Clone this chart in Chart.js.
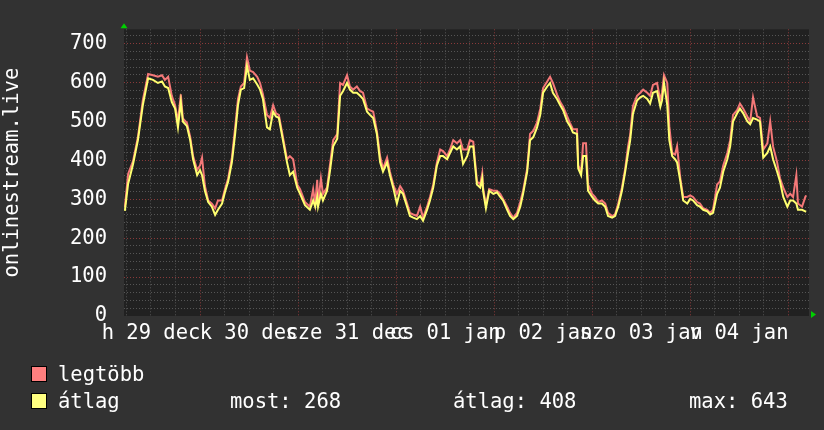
<!DOCTYPE html>
<html>
<head>
<meta charset="utf-8">
<script src="https://cdn.jsdelivr.net/npm/chart.js@4"></script>
<style>
  html, body { margin: 0; padding: 0; background: #323232; }
  #wrap { position: relative; width: 824px; height: 430px; }
  #graph { position: absolute; left: 0; top: 0; }
  .leg { position: absolute; font-family: 'DejaVu Sans Mono', monospace; font-size: 20.5px;
         line-height: 24px; color: #fff; white-space: pre; }
  .box { position: absolute; width: 14px; height: 14px; border: 1px solid #000; }
</style>
</head>
<body>
<div id="wrap">
  <canvas id="graph" width="824" height="430"></canvas>
  <div class="box" style="left:31px; top:366px; background:#ff7f7f"></div>
  <div class="leg" style="left:58px; top:362px">legtöbb</div>
  <div class="box" style="left:31px; top:393px; background:#ffff80"></div>
  <div class="leg" style="left:58px; top:389px">átlag</div>
  <div class="leg" id="stNow" style="left:230px; top:389px"></div>
  <div class="leg" id="stAvg" style="left:453px; top:389px"></div>
  <div class="leg" id="stMax" style="left:689px; top:389px"></div>
</div>
<script>
// hours since 29 dec 00:00
const hours = [5.6,6.4,7.6,8.8,10.0,11.3,12.5,13.7,14.7,15.4,16.2,17.1,17.9,18.6,19.3,19.8,20.8,21.6,22.3,23.3,
  24.0,24.5,25.2,26.0,26.9,27.7,28.4,29.4,30.1,30.9,31.8,32.6,33.3,34.0,34.8,35.5,36.2,37.0,38.0,38.7,
  39.4,40.4,41.1,41.9,42.6,43.3,44.3,45.3,
  46.0,46.8,47.8,48.5,49.7,50.9,51.7,52.2,52.7,52.9,53.6,54.1,55.1,55.8,56.6,57.6,58.3,59.0,60.0,60.7,
  61.5,62.4,63.2,63.9,64.9,65.6,66.4,67.3,68.1,68.8,69.8,70.5,71.3,72.2,73.0,73.7,74.7,75.4,76.2,77.1,
  77.9,78.6,79.6,80.3,81.1,82.0,82.8,83.5,84.5,85.2,86.0,86.9,
  87.7,88.4,89.4,90.1,90.9,91.8,92.6,93.1,93.3,94.0,94.8,95.8,96.7,97.5,98.2,99.2,99.9,100.7,101.6,102.4,
  103.1,104.1,104.8,105.6,106.5,107.3,108.0,109.0,109.7,110.4,111.4,112.2,112.9,113.9,114.6,115.3,116.3,116.6,117.3,117.8,
  118.5,119.0,120.0,120.7,121.5,122.4,123.2,123.9,124.9,125.6,126.4,127.3,128.1,128.8,
  129.3,130.0,131.0,131.8,132.5,133.5,134.2,134.9,135.9,136.7,137.1,137.6,138.4,138.9,139.6,140.3,140.8,141.6,142.3,143.3,
  144.0,144.7,145.7,146.4,147.2,148.2,148.9,149.6,150.6,151.3,152.1,153.1,153.8,154.5,155.5,156.2,157.0,158.0,158.7,159.4,
  160.4,161.1,161.9,162.9,163.6,164.3,165.3,166.0,166.8,167.8,168.5,169.2,170.0,170.4,171.4,172.2,172.4];

// átlag (average)
const avgVals = [270,340,390,452,542,611,607,599,603,590,586,550,533,485,550,500,488,452,403,362,
  375,362,322,293,281,260,273,289,318,346,395,468,542,582,586,643,607,611,595,582,
  558,485,480,525,513,509,452,395,
  362,371,330,314,285,273,297,281,306,281,314,297,322,371,436,456,566,578,599,582,
  574,574,566,558,525,517,509,468,395,371,395,362,330,289,322,314,281,257,253,249,
  257,245,273,297,330,387,411,411,403,419,436,428,
  436,391,411,436,436,338,330,354,322,277,322,314,318,306,297,273,257,249,257,281,
  314,371,452,460,484,517,574,590,599,574,558,542,529,500,488,472,468,379,362,411,
  411,322,306,297,289,289,281,257,253,257,281,322,371,419,
  450,520,554,562,566,558,546,574,578,538,554,599,542,452,411,403,395,346,297,289,
  301,297,285,281,273,269,261,265,314,330,371,403,436,500,521,533,521,500,493,509,
  505,500,407,419,436,403,371,346,306,281,297,297,289,273,273,269,268];

// legtöbb (maximum)
const maxVals = [280,365,398,460,555,622,619,615,619,607,615,566,542,500,570,508,496,460,411,375,
  387,407,334,297,289,277,297,297,326,354,407,484,558,590,599,665,631,627,615,599,
  570,517,509,542,521,517,460,403,
  411,403,338,326,293,281,326,289,350,289,354,314,330,387,452,468,599,594,619,590,
  582,590,578,574,533,529,525,476,411,379,407,371,338,314,334,322,289,265,261,257,
  281,253,281,306,338,395,428,424,411,428,452,444,
  452,428,428,452,448,346,338,367,330,285,326,322,322,314,301,281,265,253,265,293,
  322,379,468,476,497,533,586,603,615,599,570,550,538,513,496,480,480,387,371,444,
  444,338,314,306,293,297,289,265,257,261,289,330,379,436,
  465,540,566,574,582,574,566,594,599,554,574,619,599,488,419,415,436,354,306,306,
  310,306,293,289,277,273,265,273,338,346,387,419,452,517,529,546,533,513,500,562,
  513,509,428,444,500,436,395,354,330,306,314,306,362,289,281,306,310];

const dayLabels = ['h 29 dec', 'k 30 dec', 'sze 31 dec', 'cs 01 jan', 'p 02 jan', 'szo 03 jan', 'v 04 jan'];
const yTickValues = [0,20,40,60,80,100,120,140,160,180,200,220,240,260,280,300,320,340,360,380,
  400,420,440,460,480,500,520,540,560,580,600,620,640,660,680,700,720];
const xTickHours = [6,12,18,24,30,36,42,48,54,60,66,72,78,84,90,96,102,108,114,120,126,132,138,144,150,156,162,168];
const stats = { most: 268, atlag: 408, max: 643 };

const FONT = "'DejaVu Sans Mono', monospace";
const RED_GRID = '#8a3a3a';
const GRAY_GRID = '#555555';

document.getElementById('stNow').textContent = 'most: ' + stats.most;
document.getElementById('stAvg').textContent = 'átlag: ' + stats.atlag;
document.getElementById('stMax').textContent = 'max: ' + stats.max;

const toPoints = vals => vals.map((v, i) => ({ x: hours[i], y: v }));

const rrdBackground = {
  id: 'rrdBackground',
  beforeDraw(chart) {
    const { ctx, chartArea: a } = chart;
    ctx.save();
    ctx.fillStyle = '#323232';
    ctx.fillRect(0, 0, chart.width, chart.height);
    ctx.fillStyle = '#212121';
    ctx.fillRect(a.left, a.top, a.right - a.left, a.bottom - a.top);
    ctx.restore();
  },
  afterDraw(chart) {
    const { ctx, chartArea: a } = chart;
    ctx.save();
    ctx.fillStyle = '#00d000';
    // arrow on top of y axis
    ctx.beginPath();
    ctx.moveTo(a.left, a.top - 6);
    ctx.lineTo(a.left - 3.5, a.top - 1);
    ctx.lineTo(a.left + 3.5, a.top - 1);
    ctx.closePath();
    ctx.fill();
    // arrow at the end of x axis
    ctx.beginPath();
    ctx.moveTo(a.right + 7, a.bottom - 1.5);
    ctx.lineTo(a.right + 2, a.bottom - 5);
    ctx.lineTo(a.right + 2, a.bottom + 2);
    ctx.closePath();
    ctx.fill();
    ctx.restore();
  }
};

new Chart(document.getElementById('graph'), {
  type: 'line',
  data: {
    datasets: [
      {
        label: 'átlag',
        data: toPoints(avgVals),
        borderColor: '#ffff70',
        borderWidth: 2,
        pointRadius: 0,
        tension: 0
      },
      {
        label: 'legtöbb',
        data: toPoints(maxVals),
        borderColor: '#f47878',
        borderWidth: 2,
        pointRadius: 0,
        tension: 0
      }
    ]
  },
  options: {
    responsive: false,
    animation: false,
    layout: { padding: { left: 0, top: 14, right: 15, bottom: 84 } },
    plugins: {
      legend: { display: false },
      tooltip: { enabled: false }
    },
    scales: {
      x: {
        type: 'linear',
        min: 5.39,
        max: 173.1,
        afterBuildTicks: scale => { scale.ticks = xTickHours.map(v => ({ value: v })); },
        afterFit: scale => { scale.height = 30; },
        border: { display: false, dash: [1, 2] },
        grid: {
          drawTicks: false,
          color: c => (c.tick && c.tick.value % 24 === 0) ? RED_GRID : GRAY_GRID
        },
        ticks: {
          autoSkip: false,
          maxRotation: 0,
          minRotation: 0,
          padding: 5,
          color: '#ffffff',
          font: { family: FONT, size: 20.5 },
          callback: v => ((v - 12) % 24 === 0) ? dayLabels[(v - 12) / 24] : ''
        }
      },
      y: {
        min: 0,
        max: 737,
        afterBuildTicks: scale => { scale.ticks = yTickValues.map(v => ({ value: v })); },
        afterFit: scale => { scale.width = 124; },
        border: { display: false, dash: [1, 2] },
        grid: {
          drawTicks: false,
          color: c => {
            const v = c.tick ? c.tick.value : 0;
            if (v === 0) return 'rgba(0,0,0,0)';
            return v % 100 === 0 ? RED_GRID : GRAY_GRID;
          }
        },
        ticks: {
          autoSkip: false,
          padding: 17,
          color: '#ffffff',
          font: { family: FONT, size: 20.5 },
          callback: v => (v % 100 === 0) ? String(v) : ''
        },
        title: {
          display: true,
          text: 'onlinestream.live',
          color: '#ffffff',
          font: { family: FONT, size: 20.5 },
          padding: 0
        }
      }
    }
  },
  plugins: [rrdBackground]
});
</script>
</body>
</html>
